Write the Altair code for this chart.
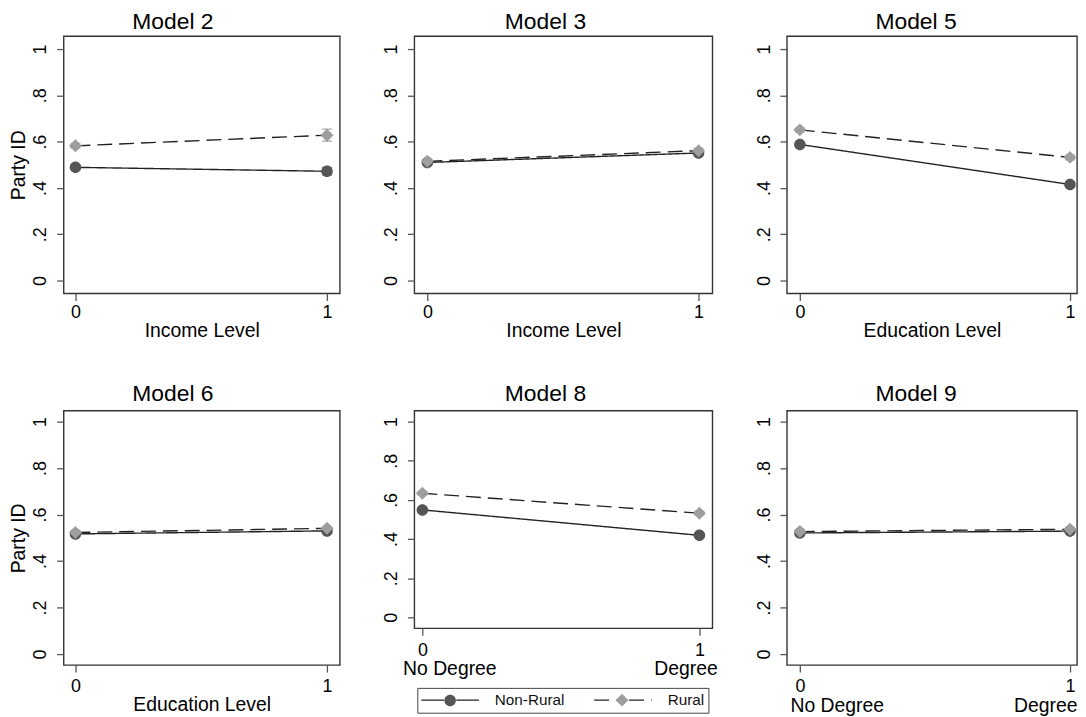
import altair as alt
import pandas as pd

FONT = "Liberation Sans"

# ---------------- data ----------------
models = ["Model 2", "Model 3", "Model 5", "Model 6", "Model 8", "Model 9"]
x_titles = ["Income Level", "Income Level", "Education Level", "Education Level", "", ""]
series_names = ["Non-Rural", "Rural"]
x_levels = [0, 1]
x_tick_labels = ["0", "1"]
degree_labels = ["No Degree", "Degree"]
has_degree_labels = [False, False, False, False, True, True]
y_ticks = [0, 0.2, 0.4, 0.6, 0.8, 1]
y_title = "Party ID"

nonrural_at0 = [0.489, 0.510, 0.588, 0.517, 0.549, 0.521]
nonrural_at1 = [0.472, 0.551, 0.415, 0.530, 0.419, 0.529]
rural_at0 = [0.582, 0.515, 0.651, 0.523, 0.634, 0.527]
rural_at1 = [0.628, 0.561, 0.532, 0.541, 0.532, 0.537]
# half-widths of the confidence intervals
nonrural_ci0 = [0.008, 0.006, 0.006, 0.005, 0.006, 0.004]
nonrural_ci1 = [0.016, 0.007, 0.007, 0.005, 0.007, 0.005]
rural_ci0 = [0.010, 0.008, 0.008, 0.006, 0.008, 0.005]
rural_ci1 = [0.026, 0.010, 0.010, 0.007, 0.010, 0.007]

# ---------------- layout / style ----------------
col_widths = [278, 300, 292]
panel_heights = [259, 259, 259, 256, 219, 256]
x_domains = [[-0.047, 1.051], [-0.048, 1.051], [-0.048, 1.026],
             [-0.047, 1.051], [-0.029, 1.047], [-0.048, 1.026]]
y_domains = [[-0.056, 1.056], [-0.056, 1.056], [-0.056, 1.056],
             [-0.047, 1.047], [-0.056, 1.056], [-0.047, 1.047]]
degree_dx = [(0, 0), (0, 0), (0, 0), (0, 0), (-20, 18), (-10, 7)]
title_dx = [-29, -18, -16, -29, -18, -16]
title_offset = [2, 2, 2, 5, 5, 5]
x_label_pad = [3, 3, 3, 6, 6, 6]

LINE_COLOR = "#222"
NR_COLOR = "#555555"
R_COLOR = "#9e9e9e"
SYM_SIZE = 210  # sqrt = 14.5 px -> unit = 7.25 px
CIRCLE_PATH = "M-0.8,0A0.8,0.8,0,1,1,0.8,0A0.8,0.8,0,1,1,-0.8,0Z"
DIAMOND_PATH = "M0,-0.9L0.9,0L0,0.9L-0.9,0Z"
LEG_X, LEG_Y = 356, 656

legend_common = dict(
    orient="none", legendX=LEG_X, legendY=LEG_Y, direction="horizontal", title=None,
    symbolSize=SYM_SIZE, symbolStrokeWidth=1.4, symbolOffset=21,
    labelFont=FONT, labelFontSize=15.4, labelOffset=37, padding=4,
)
legend_lines = alt.Legend(
    symbolType="M-4,0L-0.85,0M0.85,0L4,0", symbolStrokeColor=LINE_COLOR,
    labelColor="#111", strokeColor="#444", columnPadding=26, **legend_common,
)
# marker-only legend laid over the line legend (no label text of its own)
legend_marks = alt.Legend(
    symbolStrokeColor="transparent", labelExpr="''", columnPadding=99, **legend_common,
)

y_label_expr = ("datum.value == 0 ? '0' : datum.value == 1 ? '1' : "
                "replace(format(datum.value, '.1f'), '0.', '.')")
x_label_expr = "datum.value == 0 ? '%s' : '%s'" % (x_tick_labels[0], x_tick_labels[1])


def make_panel(i):
    rows = []
    vals = {
        "Non-Rural": (nonrural_at0[i], nonrural_at1[i], nonrural_ci0[i], nonrural_ci1[i]),
        "Rural": (rural_at0[i], rural_at1[i], rural_ci0[i], rural_ci1[i]),
    }
    for s in series_names:
        v0, v1, c0, c1 = vals[s]
        for xv, v, c in zip(x_levels, (v0, v1), (c0, c1)):
            rows.append({"series": s, "series_m": s, "x": xv, "y": v, "lo": v - c, "hi": v + c})
    df = pd.DataFrame(rows)

    col = i % 3
    xscale = alt.Scale(domain=x_domains[i], nice=False, zero=False)
    yscale = alt.Scale(domain=y_domains[i], nice=False, zero=False)
    xaxis_kwargs = dict(values=x_levels, labelExpr=x_label_expr, grid=False, domain=False,
                        labelFlush=False, labelAngle=0, labelPadding=x_label_pad[i], titlePadding=0)
    if x_titles[i]:
        xaxis = alt.Axis(title=x_titles[i], **xaxis_kwargs)
    else:
        xaxis = alt.Axis(title=None, **xaxis_kwargs)
    yaxis_kwargs = dict(values=y_ticks, labelExpr=y_label_expr, grid=False, domain=False,
                        labelAngle=270, labelAlign="center", labelBaseline="bottom",
                        labelPadding=7, titlePadding=3, labelFlush=False)
    if col == 0:
        yaxis = alt.Axis(title=y_title, **yaxis_kwargs)
    else:
        yaxis = alt.Axis(title=None, **yaxis_kwargs)

    X = alt.X("x:Q", scale=xscale, axis=xaxis)
    Y = alt.Y("y:Q", scale=yscale, axis=yaxis)
    base = alt.Chart(df)

    # strokeDash domain comes from the data (sorted), so its legend is kept apart from the marker legend
    lines = base.mark_line(color=LINE_COLOR, strokeWidth=1.4).encode(
        x=X, y=Y,
        strokeDash=alt.StrokeDash("series:N", sort="ascending", scale=alt.Scale(range=[[1, 0], [15, 7]]),
                                  legend=legend_lines),
    )
    ci_color = alt.condition(alt.datum.series == "Rural", alt.value(R_COLOR), alt.value(NR_COLOR))
    rules = base.mark_rule(strokeWidth=1.6).encode(x=X, y=alt.Y("lo:Q", scale=yscale, axis=yaxis), y2="hi:Q", color=ci_color)
    cap_lo = base.mark_tick(orient="horizontal", size=10, thickness=1.6).encode(
        x=X, y=alt.Y("lo:Q", scale=yscale, axis=yaxis), color=ci_color)
    cap_hi = base.mark_tick(orient="horizontal", size=10, thickness=1.6).encode(
        x=X, y=alt.Y("hi:Q", scale=yscale, axis=yaxis), color=ci_color)
    points = base.mark_point(filled=True, size=SYM_SIZE, opacity=1, strokeWidth=0).encode(
        x=X, y=Y,
        shape=alt.Shape("series_m:N", scale=alt.Scale(domain=series_names, range=[CIRCLE_PATH, DIAMOND_PATH]),
                        legend=legend_marks),
        color=alt.Color("series_m:N", scale=alt.Scale(domain=series_names, range=[NR_COLOR, R_COLOR]),
                        legend=legend_marks),
    )
    main = alt.layer(lines, rules, cap_lo, cap_hi, points)

    if has_degree_labels[i]:
        dl, dr = degree_dx[i]
        axis2 = alt.Axis(
            values=x_levels, title=None, orient="bottom", ticks=False, domain=False, grid=False,
            labelExpr="datum.value == 0 ? '%s' : '%s'" % (degree_labels[0], degree_labels[1]),
            labelFontSize=19.5, labelFlush=False, labelOverlap=False, labelPadding=0, offset=32,
            labelAlign={"condition": {"test": "datum.value == 0", "value": "left"}, "value": "right"},
            labelOffset={"condition": {"test": "datum.value == 0", "value": dl}, "value": dr},
        )
        hidden = base.mark_point(opacity=0).encode(x=alt.X("x:Q", scale=xscale, axis=axis2))
        layer = alt.layer(main, hidden).resolve_axis(x="independent")
    else:
        layer = main

    return layer.properties(
        width=col_widths[col], height=panel_heights[i],
        title=alt.TitleParams(text=models[i], fontSize=23, font=FONT, fontWeight="normal",
                              color="#000", offset=title_offset[i], anchor="middle", dx=title_dx[i]),
    )


panels = [make_panel(i) for i in range(len(models))]

chart = alt.concat(
    *panels, columns=3, spacing={"row": 118, "column": 75}, bounds="flush", align="each"
).properties(
    padding=0, background="white"
).configure_view(
    stroke="#333", strokeWidth=1.4
).configure_axis(
    labelFont=FONT, titleFont=FONT, labelColor="#000", titleColor="#000",
    labelFontSize=18, titleFontSize=19.5, titleFontWeight="normal",
    tickColor="#555", tickWidth=1.3, tickSize=7,
)

chart.save("out.html", embed_options={"renderer": "svg", "actions": False})
